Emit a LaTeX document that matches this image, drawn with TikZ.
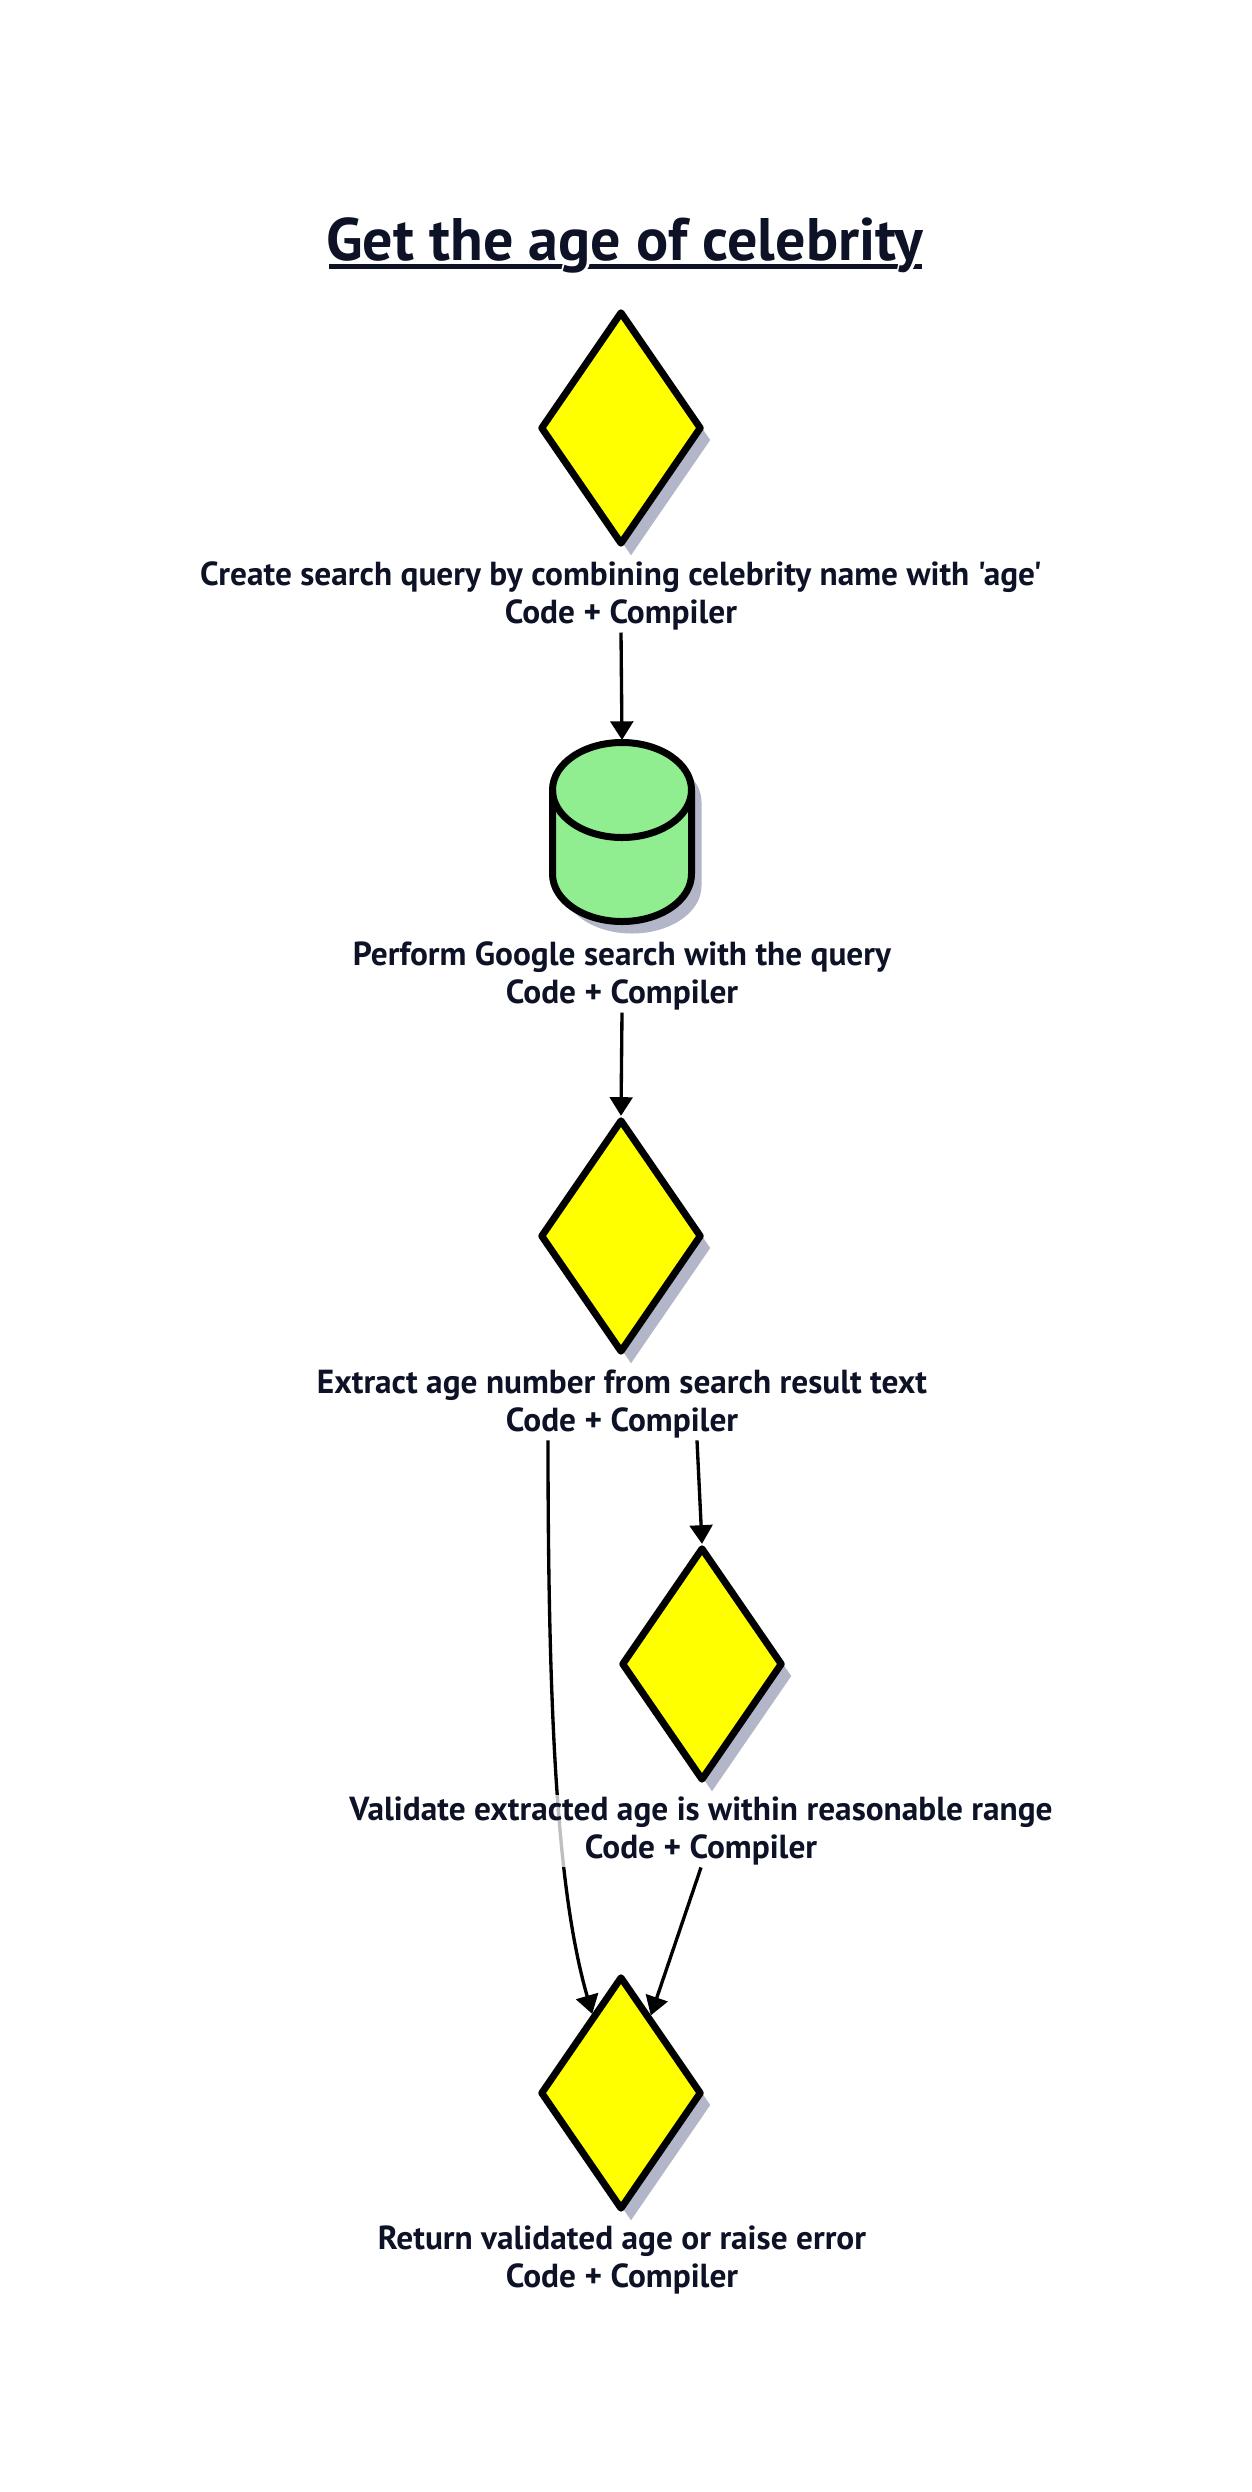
\documentclass[tikz,border=0pt]{standalone}
\usepackage{fontspec}
\setmainfont{PT Sans}[Ligatures=TeXOff]
\newfontfamily\halofont{PT Sans}[Ligatures=TeXOff, FakeBold=8]
\usetikzlibrary{shapes.geometric,arrows.meta,shadows,backgrounds,calc}
\definecolor{ink}{HTML}{0D1226}
\definecolor{shadowc}{HTML}{B3B5C8}
\definecolor{dyellow}{HTML}{FFFF00}
\definecolor{cgreen}{HTML}{90EE90}
\begin{document}
\begin{tikzpicture}[x=0.75pt, y=0.75pt,
  dia/.style={shape=diamond, draw=black, line width=5.25pt, line join=round, fill=dyellow,
    inner sep=0pt, minimum width=121pt, minimum height=175pt,
    general shadow={fill=shadowc, shadow xshift=7.5pt, shadow yshift=-9pt}},
  lab/.style={align=center, font=\bfseries\fontsize{25pt}{28.5pt}\selectfont, text=ink,
    fill=white, fill opacity=0.75, text opacity=1, inner sep=1.5pt},
  ttl/.style={font=\bfseries\fontsize{45pt}{54pt}\selectfont, anchor=base, inner sep=0pt},
  conn/.style={draw=black, line width=2.5pt, -{Triangle[length=14pt,width=17pt]}}]
\useasboundingbox (0,0) rectangle (1252,-2492);
\begin{pgfonlayer}{background}
\fill[white] (0,0) rectangle (1252,-2492);
\end{pgfonlayer}

% title with skip-ink underline
\draw[ink, line width=3.75pt] (329,-266) -- (922,-266);
\node[ttl, text=white, font=\halofont\bfseries\fontsize{45pt}{54pt}\selectfont] (titlehalo) at (625,-260) {Get the age of celebrity};
\node[ttl, text=ink] (title) at (625,-260) {Get the age of celebrity};

% shapes
\node[dia] (d1) at (621,-428) {};
\node[inner sep=0pt, outer sep=0pt, minimum width=109.5pt, minimum height=138pt] (cyl) at (622,-832) {};
\fill[shadowc, shift={(10,-12)}] (552.5,-790) -- (552.5,-874) arc[start angle=180,end angle=360,x radius=69.5,y radius=47.5] -- (691.5,-790) arc[start angle=0,end angle=180,x radius=69.5,y radius=47.5] -- cycle;
\filldraw[fill=cgreen, draw=black, line width=5.25pt, line join=round] (552.5,-790) -- (552.5,-874) arc[start angle=180,end angle=360,x radius=69.5,y radius=47.5] -- (691.5,-790) arc[start angle=0,end angle=180,x radius=69.5,y radius=47.5] -- cycle;
\draw[line width=5.25pt] (552.5,-790) arc[start angle=180,end angle=360,x radius=69.5,y radius=47.5];
\node[dia] (d3) at (621,-1236) {};
\node[dia] (d4) at (702,-1664) {};
\node[dia] (d5) at (621,-2093) {};

% labels
\node[lab] (l1) at (621,-596) {Create search query by combining celebrity name with 'age'\\Code + Compiler};
\node[lab] (l2) at (622,-976) {Perform Google search with the query\\Code + Compiler};
\node[lab] (l3) at (622,-1404) {Extract age number from search result text\\Code + Compiler};
\node[lab] (l5) at (622,-2260) {Return validated age or raise error\\Code + Compiler};

% connectors
\draw[conn] (l1.south) -- (cyl.north);
\draw[conn] (l2.south) -- (d3.north);
\draw[conn] ($(l3.south)+(75,0)$) -- (d4.north);
\draw[conn] ($(l3.south)+(-74,0)$) .. controls +(0,-309) and +(-32,112) .. (d5.110);

\node[lab] (l4) at (701,-1831) {Validate extracted age is within reasonable range\\Code + Compiler};
\draw[conn] (l4.south) -- (d5.69);
\end{tikzpicture}
\end{document}
